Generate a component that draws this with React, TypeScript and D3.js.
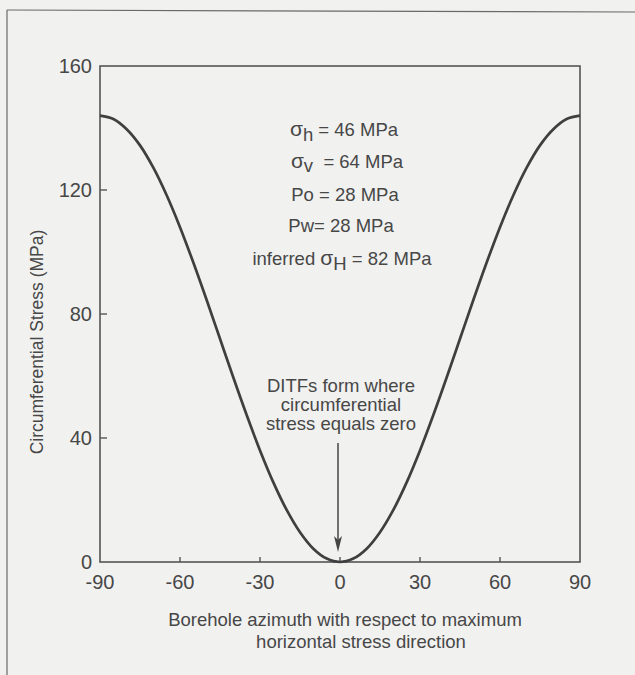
import React from "react";
import * as d3 from "d3";

// Borehole azimuth (degrees from the maximum horizontal stress direction)
const azimuth = [
  -90, -85, -80, -75, -70, -65, -60, -55, -50, -45, -40, -35, -30, -25, -20, -15, -10, -5, 0,
  5, 10, 15, 20, 25, 30, 35, 40, 45, 50, 55, 60, 65, 70, 75, 80, 85, 90,
];
// Circumferential stress at the borehole wall (MPa)
const stress = [
  144, 142.9, 139.6, 134.4, 127.2, 118.3, 108, 96.6, 84.5, 72, 59.5, 47.4, 36, 25.7, 16.8, 9.6, 4.3, 1.1, 0,
  1.1, 4.3, 9.6, 16.8, 25.7, 36, 47.4, 59.5, 72, 84.5, 96.6, 108, 118.3, 127.2, 134.4, 139.6, 142.9, 144,
];

const xTicks = [-90, -60, -30, 0, 30, 60, 90];
const yTicks = [0, 40, 80, 120, 160];

const W = 635;
const H = 675;
const ink = "#474747";
const font = "'Liberation Sans', Arial, Helvetica, sans-serif";

export default function App() {
  const x = d3.scaleLinear().domain([-90, 90]).range([100, 580]);
  const y = d3.scaleLinear().domain([0, 160]).range([562, 66]);

  const pts = azimuth.map((a, i) => [a, stress[i]] as [number, number]);
  const line = d3
    .line<[number, number]>()
    .x((d) => x(d[0]))
    .y((d) => y(d[1]))
    .curve(d3.curveCatmullRom.alpha(0.5));

  const annFont = 18.5;
  const arrowX = x(0) - 2;

  return (
    <svg
      width={W}
      height={H}
      viewBox={`0 0 ${W} ${H}`}
      style={{ position: "absolute", left: 0, top: 0, background: "#f1f1f0" }}
      fontFamily={font}
    >
      <rect x={0} y={0} width={W} height={H} fill="#f1f1f0" />
      {/* page frame */}
      <line x1={7} y1={10} x2={W} y2={12} stroke="#6a6a6a" strokeWidth={1.2} />
      <line x1={7} y1={10} x2={7} y2={H} stroke="#6a6a6a" strokeWidth={1.2} />

      {/* plot frame */}
      <rect
        x={x(-90)}
        y={y(160)}
        width={x(90) - x(-90)}
        height={y(0) - y(160)}
        fill="none"
        stroke="#555"
        strokeWidth={1.6}
      />

      {/* bottom ticks (inward) */}
      {xTicks.slice(1, -1).map((t) => (
        <line key={"xt" + t} x1={x(t)} x2={x(t)} y1={y(0)} y2={y(0) - 5} stroke="#555" strokeWidth={1.4} />
      ))}
      {xTicks.map((t) => (
        <text key={"xl" + t} x={x(t)} y={589} textAnchor="middle" fontSize={20} fill={ink}>
          {t}
        </text>
      ))}

      {/* left ticks (inward) */}
      {yTicks.slice(1, -1).map((t) => (
        <line key={"yt" + t} x1={x(-90)} x2={x(-90) + 7} y1={y(t)} y2={y(t)} stroke="#555" strokeWidth={1.4} />
      ))}
      {yTicks.map((t) => (
        <text key={"yl" + t} x={92} y={y(t) + 7} textAnchor="end" fontSize={20} fill={ink}>
          {t}
        </text>
      ))}

      {/* axis titles */}
      <text
        transform={`translate(43, 342) rotate(-90)`}
        textAnchor="middle"
        fontSize={17.5}
        fill={ink}
      >
        Circumferential Stress (MPa)
      </text>
      <text x={345} y={626} textAnchor="middle" fontSize={18.5} fill={ink}>
        Borehole azimuth with respect to maximum
      </text>
      <text x={361} y={648} textAnchor="middle" fontSize={18.5} fill={ink}>
        horizontal stress direction
      </text>

      {/* stress curve */}
      <path d={line(pts) || ""} fill="none" stroke="#3f3f3f" strokeWidth={2.7} />

      {/* stress state annotation */}
      <g fontSize={annFont} fill={ink} textAnchor="middle">
        <text x={344} y={136}>
          <tspan fontSize={21}>σ</tspan>
          <tspan dy={5}>h</tspan>
          <tspan dy={-5}> = 46 MPa</tspan>
        </text>
        <text x={347} y={168}>
          <tspan fontSize={21}>σ</tspan>
          <tspan dy={4}>v</tspan>
          <tspan dy={-4}>{"\u00a0\u00a0"}= 64 MPa</tspan>
        </text>
        <text x={345} y={201}>
          Po = 28 MPa
        </text>
        <text x={341} y={232}>
          Pw= 28 MPa
        </text>
        <text x={342} y={265}>
          {"inferred\u00a0"}
          <tspan fontSize={21}>σ</tspan>
          <tspan dy={5}>H</tspan>
          <tspan dy={-5}> = 82 MPa</tspan>
        </text>
      </g>

      {/* DITF note and arrow */}
      <g fontSize={18.5} fill={ink} textAnchor="middle">
        <text x={341} y={392}>DITFs form where</text>
        <text x={341} y={411}>circumferential</text>
        <text x={341} y={430}>stress equals zero</text>
      </g>
      <line x1={arrowX} x2={arrowX} y1={443} y2={540} stroke="#444" strokeWidth={1.5} />
      <path
        d={`M${arrowX - 4},${536} L${arrowX},${552} L${arrowX + 4},${536} L${arrowX},${540} Z`}
        fill="#444"
      />
    </svg>
  );
}
